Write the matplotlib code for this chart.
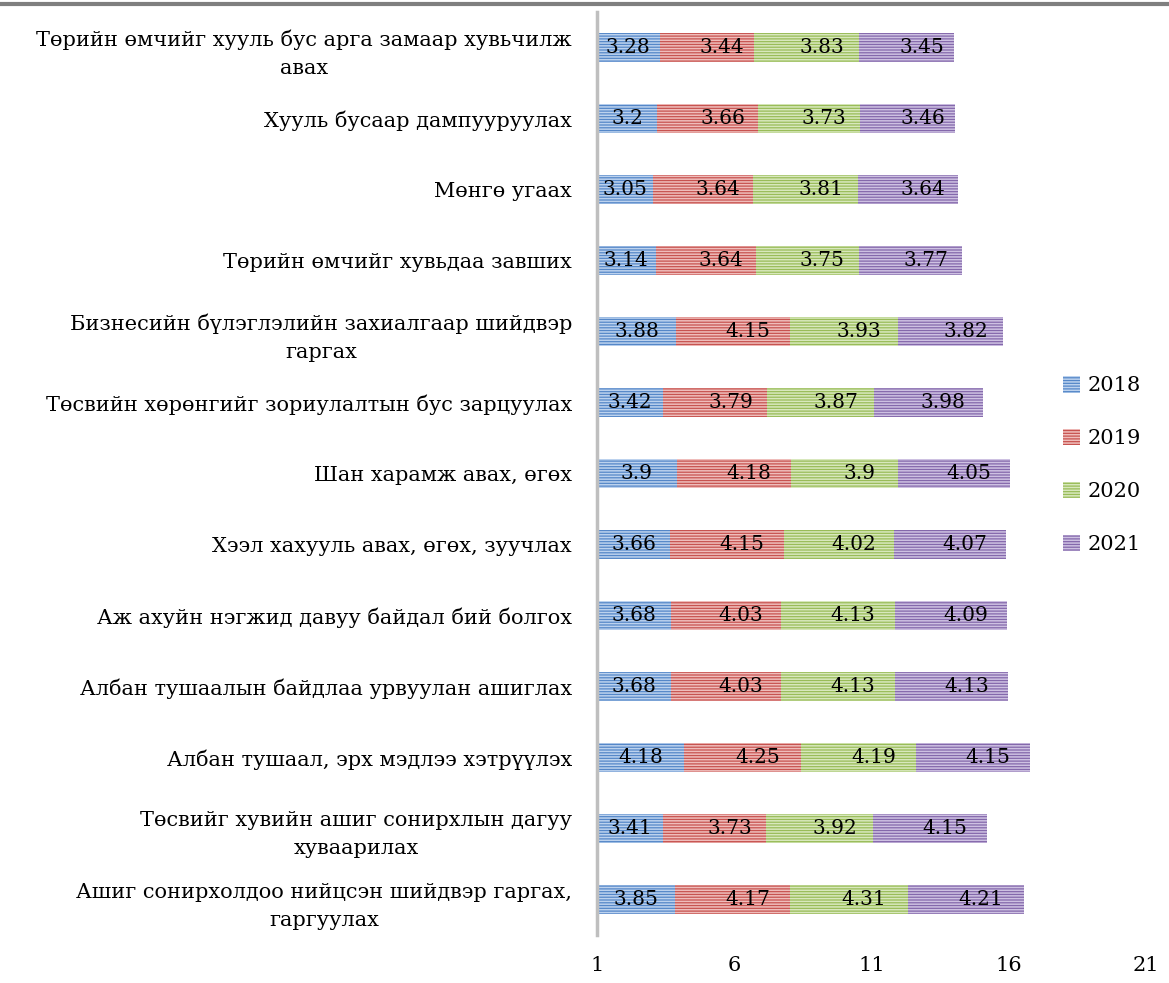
import numpy as np
import matplotlib
matplotlib.use("Agg")
import matplotlib.pyplot as plt
from matplotlib.lines import Line2D

plt.rcParams['font.family'] = ['DejaVu Serif']
plt.rcParams['hatch.linewidth'] = 1.1

categories = [
    "Төрийн өмчийг хууль бус арга замаар хувьчилж\nавах",
    "Хууль бусаар дампууруулах",
    "Мөнгө угаах",
    "Төрийн өмчийг хувьдаа завших",
    "Бизнесийн бүлэглэлийн захиалгаар шийдвэр\nгаргах",
    "Төсвийн хөрөнгийг зориулалтын бус зарцуулах",
    "Шан харамж авах, өгөх",
    "Хээл хахууль авах, өгөх, зуучлах",
    "Аж ахуйн нэгжид давуу байдал бий болгох",
    "Албан тушаалын байдлаа урвуулан ашиглах",
    "Албан тушаал, эрх мэдлээ хэтрүүлэх",
    "Төсвийг хувийн ашиг сонирхлын дагуу\nхуваарилах",
    "Ашиг сонирхолдоо нийцсэн шийдвэр гаргах,\nгаргуулах",
]

years = ["2018", "2019", "2020", "2021"]
v2018 = [3.28, 3.2, 3.05, 3.14, 3.88, 3.42, 3.9, 3.66, 3.68, 3.68, 4.18, 3.41, 3.85]
v2019 = [3.44, 3.66, 3.64, 3.64, 4.15, 3.79, 4.18, 4.15, 4.03, 4.03, 4.25, 3.73, 4.17]
v2020 = [3.83, 3.73, 3.81, 3.75, 3.93, 3.87, 3.9, 4.02, 4.13, 4.13, 4.19, 3.92, 4.31]
v2021 = [3.45, 3.46, 3.64, 3.77, 3.82, 3.98, 4.05, 4.07, 4.09, 4.13, 4.15, 4.15, 4.21]

face = ["#5587C8", "#C75350", "#99BC58", "#8468AB"]
stripe = ["#BCD2EE", "#EFBDBB", "#D8E8BD", "#CEC1E2"]

xmin, xmax = 1, 21

fig = plt.figure(figsize=(11.69, 9.83), dpi=100)
ax = fig.add_axes([597 / 1169, 1 - 935 / 983, 549 / 1169, 923 / 983])

y = np.arange(len(categories))
left = np.zeros(len(categories))
series = [v2018, v2019, v2020, v2021]
for i, vals in enumerate(series):
    vals = np.array(vals)
    ax.barh(y, vals, left=left, height=0.42, color=face[i], edgecolor=stripe[i],
            linewidth=0, hatch="------", label=years[i])
    for k in range(len(y)):
        a = max(left[k], xmin)
        b = left[k] + vals[k]
        cx = (a + b) / 2 if i == 0 else (a + b) / 2 + 0.55
        ax.text(cx, y[k], f"{vals[k]:g}", ha="center", va="center",
                fontsize=14.5, color="black")
    left = left + vals

ax.set_xlim(xmin, xmax)
ax.set_ylim(len(categories) - 0.5, -0.5)
ax.set_xticks([1, 6, 11, 16, 21])
ax.set_yticks(y)
ax.set_yticklabels(categories, fontsize=15)
for lbl in ax.get_yticklabels():
    lbl.set_multialignment("center")
    lbl.set_linespacing(1.6)
ax.tick_params(axis="y", length=0, pad=18)
ax.tick_params(axis="x", length=0, pad=15, labelsize=15)

for s in ["top", "right", "bottom"]:
    ax.spines[s].set_visible(False)
ax.spines["left"].set_color("#BFBFBF")
ax.spines["left"].set_linewidth(2.5)

ax.legend(loc="center left", bbox_to_anchor=(1044 / 1169, 1 - 465 / 983),
          bbox_transform=fig.transFigure, frameon=False, fontsize=15,
          handlelength=0.85, handleheight=0.85, labelspacing=1.6, handletextpad=0.35)

fig.add_artist(Line2D([0, 1], [1 - 4 / 983, 1 - 4 / 983], color="#7F7F7F",
                      linewidth=3, transform=fig.transFigure))

fig.savefig("out.png", dpi=100)
